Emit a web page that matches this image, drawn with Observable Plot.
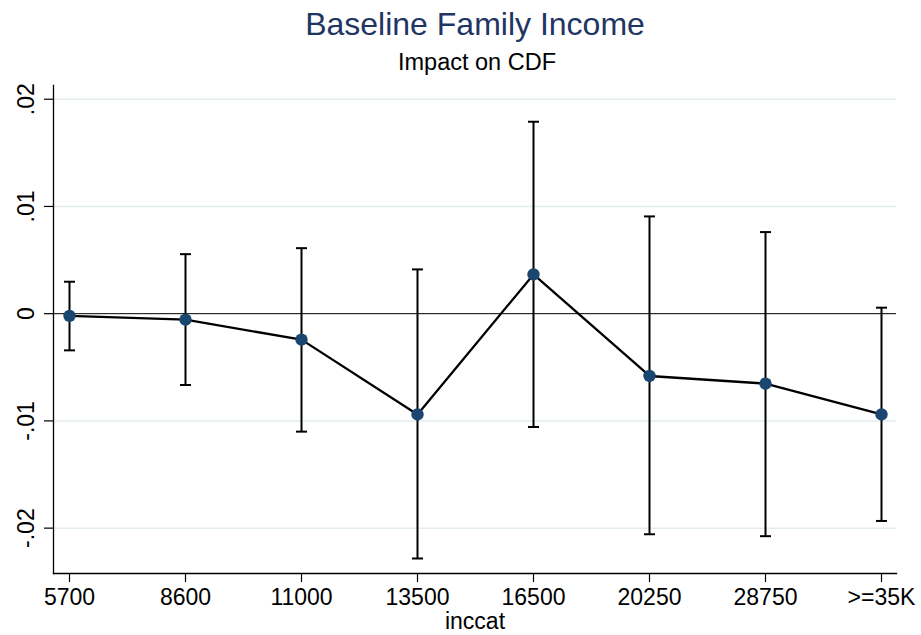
<!DOCTYPE html>
<html>
<head>
<meta charset="utf-8">
<script src="https://cdn.jsdelivr.net/npm/d3@7"></script>
<script src="https://cdn.jsdelivr.net/npm/@observablehq/plot@0.6"></script>
<style>
  html, body { margin: 0; padding: 0; background: #ffffff; }
  #wrap { width: 921px; height: 635px; font-family: "Liberation Sans", Arial, sans-serif; }
  #title { height: 48px; line-height: 48px; font-size: 32px; color: #1f3563; text-align: center; padding-left: 29px; box-sizing: border-box; white-space: nowrap; }
  #subtitle { height: 28px; line-height: 28px; font-size: 23.5px; color: #000; text-align: center; padding-left: 33px; box-sizing: border-box; white-space: nowrap; }
  #chart svg { display: block; }
</style>
</head>
<body>
<div id="wrap">
  <div id="title">Baseline Family Income</div>
  <div id="subtitle">Impact on CDF</div>
  <div id="chart"></div>
</div>
<script>
const categories = ["5700", "8600", "11000", "13500", "16500", "20250", "28750", ">=35K"];
const estimate = [-0.0002, -0.00056, -0.00242, -0.0094, 0.00366, -0.00581, -0.00652, -0.0094];
const upper = [0.00298, 0.00555, 0.00611, 0.00413, 0.0179, 0.00907, 0.00761, 0.00056];
const lower = [-0.00342, -0.00665, -0.0110, -0.02283, -0.01057, -0.02057, -0.02075, -0.01933];
const yTicks = [-0.02, -0.01, 0, 0.01, 0.02];
const yTickLabels = ["-.02", "-.01", "0", ".01", ".02"];
const gridTicks = [-0.02, -0.01, 0.01, 0.02];
const xTitle = "inccat";

const data = categories.map((c, i) => ({cat: c, est: estimate[i], lo: lower[i], hi: upper[i]}));
const yLabel = new Map(yTicks.map((t, i) => [t, yTickLabels[i]]));

// horizontal cap symbol for the error bars (half-width = r)
const capSymbol = {
  draw(context, size) {
    const w = Math.sqrt(size / Math.PI);
    context.moveTo(-w, 0);
    context.lineTo(w, 0);
  }
};

const chart = Plot.plot({
  width: 921,
  height: 559,
  marginLeft: 53,
  marginRight: 25,
  marginTop: 9,
  marginBottom: 62,
  style: {fontFamily: "'Liberation Sans', Arial, sans-serif", background: "#ffffff", color: "#000"},
  x: {type: "point", domain: categories, padding: 0.129},
  y: {domain: [-0.02423, 0.02128]},
  marks: [
    Plot.gridY(gridTicks, {stroke: "#e3ecef", strokeOpacity: 1, strokeWidth: 1.5}),
    Plot.ruleY([0], {stroke: "#000", strokeWidth: 1}),
    Plot.axisY({
      ticks: yTicks,
      tickFormat: d => yLabel.get(d),
      tickSize: 9,
      tickRotate: -90,
      tickPadding: 10.5,
      fontSize: 23,
      stroke: "#000",
      strokeWidth: 1.2,
      label: null
    }),
    Plot.axisX({
      tickSize: 9,
      tickPadding: 6,
      fontSize: 23,
      stroke: "#000",
      strokeWidth: 1.2,
      label: xTitle,
      labelAnchor: "center",
      labelOffset: 55,
      labelArrow: "none"
    }),
    Plot.frame({anchor: "left", stroke: "#000", strokeWidth: 1.3}),
    Plot.frame({anchor: "bottom", stroke: "#000", strokeWidth: 1.3}),
    Plot.ruleX(data, {x: "cat", y1: "lo", y2: "hi", stroke: "#000", strokeWidth: 2}),
    Plot.dot(data, {x: "cat", y: "hi", symbol: capSymbol, r: 5.5, fill: "none", stroke: "#000", strokeWidth: 2}),
    Plot.dot(data, {x: "cat", y: "lo", symbol: capSymbol, r: 5.5, fill: "none", stroke: "#000", strokeWidth: 2}),
    Plot.line(data, {x: "cat", y: "est", stroke: "#000", strokeWidth: 2.3}),
    Plot.dot(data, {x: "cat", y: "est", r: 6.2, fill: "#1a476f", stroke: "none"})
  ]
});
document.getElementById("chart").appendChild(chart);
</script>
</body>
</html>
